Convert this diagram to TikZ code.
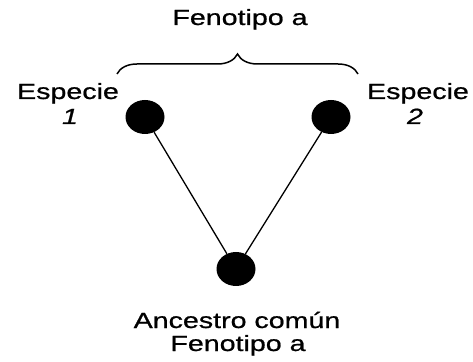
\documentclass[tikz,border=0pt]{standalone}
\usepackage{fontspec}
\setmainfont{Liberation Sans}
\newfontfamily\labelfont[FakeStretch=1.3,FakeBold=0.8]{Liberation Sans}
\usetikzlibrary{shapes.geometric,decorations.pathreplacing}
\tikzset{
  taxon/.style={ellipse, fill=black, inner sep=0pt, minimum width=39pt, minimum height=34pt},
  caption/.style={font=\fontsize{22}{26}\labelfont, inner sep=0pt, anchor=base},
  branch/.style={line width=1.3pt}
}
\begin{document}
\begin{tikzpicture}[x=1pt,y=1pt]
      \useasboundingbox (0,0) rectangle (473,361);
      % Place the dots
      \node[taxon] (sp1) at (145,244) {};
      \node[taxon] (sp2) at (331,244) {};
      \node[taxon] (anc) at (236,92) {};
      % Draw the branches
      \draw[branch] (sp1) -- (anc);
      \draw[branch] (sp2) -- (anc);
      % Brace over the two species
      \coordinate (bl) at (117,287);
      \coordinate (br) at (358,287);
      \draw[line width=1.5pt, decorate, decoration={brace, amplitude=20pt}] (bl) -- (br);
      % Labels
      \node[caption] (top) at (240,336) {Fenotipo a};
      \node[caption] (name1) at (68,262) {Especie};
      \node[caption] (num1) at (70,237) {\itshape 1};
      \node[caption] (name2) at (418,262) {Especie};
      \node[caption] (num2) at (415,237) {\itshape 2};
      \node[caption] (ancname) at (237,33) {Ancestro común};
      \node[caption] (ancfen) at (238,10) {Fenotipo a};
\end{tikzpicture}
\end{document}
